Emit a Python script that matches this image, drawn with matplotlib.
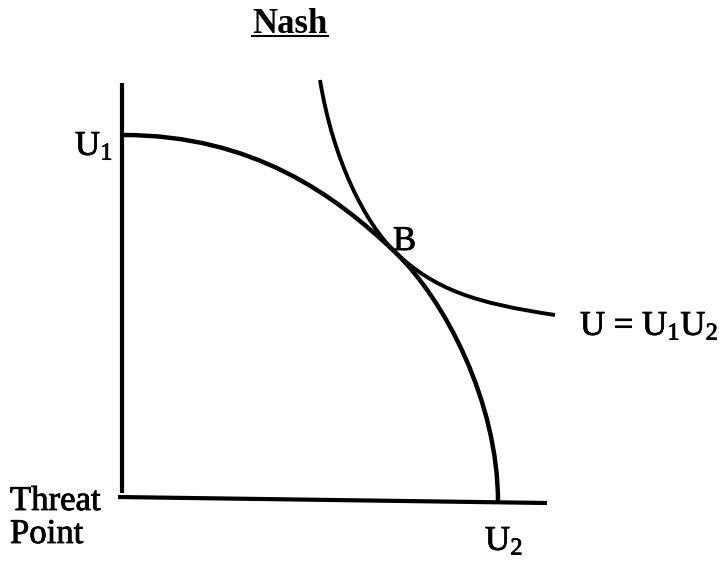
import matplotlib
matplotlib.use("Agg")
import matplotlib.pyplot as plt
import matplotlib.patheffects as pe
from matplotlib.path import Path
from matplotlib.patches import PathPatch

plt.rcParams['font.family'] = ['Liberation Serif', 'DejaVu Serif']
plt.rcParams['mathtext.fontset'] = 'custom'
plt.rcParams['mathtext.rm'] = 'Liberation Serif'
plt.rcParams['mathtext.it'] = 'Liberation Serif:italic'

# 그림에서 읽은 곡선 (threat point 기준, U2 가로 / U1 세로)
# 베지어 꼭짓점과 조절점: 시작, 조절1, 조절2, B, 조절1, 조절2, 끝
frontier_x = [1, 131, 213, 273, 323, 376, 376]
frontier_y = [362, 362, 302, 245, 197, 95, -5]

indiff_x = [198, 211, 243, 273, 313, 353, 433]
indiff_y = [417, 337, 274, 245, 207, 194, 182]

u1_axis_x = [0, 0]
u1_axis_y = [414, 4]
u2_axis_x = [-4, 425]
u2_axis_y = [0, -6]


def bezier(xs, ys):
    verts = list(zip(xs, ys))
    codes = [Path.MOVETO] + [Path.CURVE4] * (len(verts) - 1)
    return Path(verts, codes)


fig = plt.figure(figsize=(7.28, 5.63), dpi=100)
ax = fig.add_axes([0, 0, 1, 1])
ax.set_xlim(-122, 606)
ax.set_ylim(-66, 497)
ax.axis('off')

ax.plot(u1_axis_x, u1_axis_y, color='black', linewidth=3, solid_capstyle='butt')
ax.plot(u2_axis_x, u2_axis_y, color='black', linewidth=3, solid_capstyle='butt')

ax.add_patch(PathPatch(bezier(frontier_x, frontier_y), fill=False,
                       edgecolor='black', linewidth=3.2))
ax.add_patch(PathPatch(bezier(indiff_x, indiff_y), fill=False,
                       edgecolor='black', linewidth=2.8))

heavy = [pe.withStroke(linewidth=0.6, foreground='black')]

# 제목 (밑줄)
ax.text(168, 464, 'Nash', fontsize=25, fontweight='bold', ha='center', va='baseline')
ax.plot([130, 206], [461, 461], color='black', linewidth=1.5)

labels = [
    (-9, 342, r'U$_1$', 'right'),
    (271, 247, 'B', 'left'),
    (458, 162, r'U = U$_1$U$_2$', 'left'),
    (-112, -13, 'Threat', 'left'),
    (-112, -46, 'Point', 'left'),
    (363, -53, r'U$_2$', 'left'),
]
for x, y, s, ha in labels:
    ax.text(x, y, s, fontsize=25, ha=ha, va='baseline', path_effects=heavy)

fig.savefig('out.png', dpi=100)
